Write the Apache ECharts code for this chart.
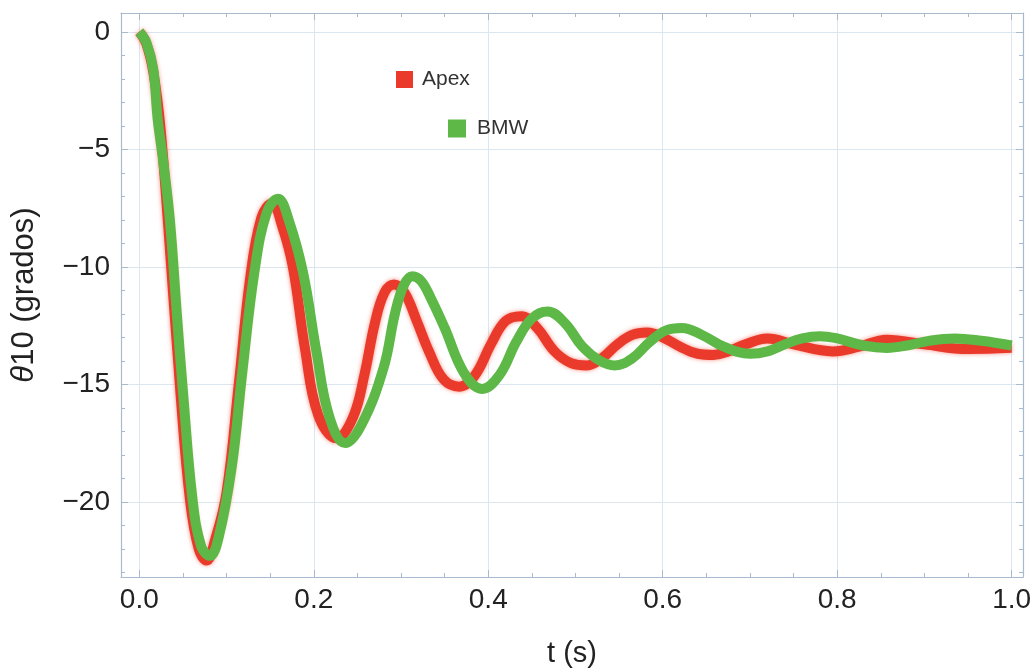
<!DOCTYPE html>
<html>
<head>
<meta charset="utf-8">
<script src="https://cdn.jsdelivr.net/npm/echarts@6/dist/echarts.min.js"></script>
<style>
html,body{margin:0;padding:0;background:#fff;}
#chart{width:1035px;height:671px;}
</style>
</head>
<body>
<div id="chart"></div>
<script>
// ---- data ----
const seriesNames = ['Apex', 'BMW'];
const tApex = [0,0.008,0.016,0.024,0.033,0.047,0.058,0.068,0.077,0.087,0.100,0.114,0.127,0.140,0.152,0.164,0.176,0.190,0.205,0.226,0.245,0.258,0.270,0.281,0.292,0.304,0.318,0.332,0.349,0.367,0.385,0.403,0.420,0.438,0.456,0.476,0.495,0.513,0.530,0.548,0.565,0.582,0.600,0.620,0.640,0.658,0.675,0.695,0.720,0.750,0.795,0.825,0.857,0.900,0.950,1.000];
const vApex = [0,-0.5,-1.7,-4.0,-8.2,-15.3,-19.9,-22.0,-22.5,-21.6,-19.6,-15.0,-10.5,-7.9,-7.3,-8.3,-10.0,-13.5,-16.3,-17.3,-16.4,-14.6,-12.4,-11.1,-10.75,-11.1,-12.3,-13.6,-14.8,-15.1,-14.6,-13.3,-12.3,-12.1,-12.6,-13.6,-14.1,-14.2,-13.9,-13.3,-12.9,-12.8,-13.0,-13.4,-13.7,-13.75,-13.6,-13.3,-13.05,-13.3,-13.6,-13.4,-13.1,-13.3,-13.5,-13.45];
const tBMW = [0,0.008,0.016,0.021,0.027,0.035,0.043,0.050,0.061,0.071,0.081,0.091,0.106,0.118,0.132,0.146,0.159,0.172,0.188,0.203,0.218,0.236,0.255,0.280,0.293,0.303,0.313,0.323,0.335,0.350,0.372,0.393,0.413,0.432,0.450,0.468,0.488,0.508,0.528,0.545,0.565,0.585,0.604,0.622,0.645,0.670,0.700,0.720,0.740,0.760,0.780,0.800,0.830,0.857,0.880,0.905,0.935,0.965,1.000];
const vBMW = [0,-0.45,-1.6,-3.7,-5.4,-8.0,-12.0,-15.3,-19.9,-21.9,-22.3,-21.5,-18.5,-14.5,-10.2,-7.7,-7.1,-8.1,-10.3,-13.6,-16.4,-17.5,-16.7,-14.3,-12.0,-10.8,-10.4,-10.6,-11.4,-12.6,-14.5,-15.2,-14.6,-13.2,-12.2,-11.9,-12.4,-13.4,-14.0,-14.2,-13.9,-13.2,-12.7,-12.6,-12.9,-13.4,-13.7,-13.6,-13.3,-13.05,-12.95,-13.05,-13.35,-13.45,-13.35,-13.15,-13.05,-13.15,-13.35];
const xTicks = [0, 0.2, 0.4, 0.6, 0.8, 1.0];
const xMinorTicks = [0.05,0.1,0.15,0.25,0.3,0.35,0.45,0.5,0.55,0.65,0.7,0.75,0.85,0.9,0.95];
const yTicks = [-20, -15, -10, -5, 0];
const yMinorTicks = [-23,-22,-21,-19,-18,-17,-16,-14,-13,-12,-11,-9,-8,-7,-6,-4,-3,-2,-1];
const xName = 't (s)';
const yName = '{i|θ}10 (grados)';

// ---- chart ----
const FONT = 'Liberation Sans, Arial, sans-serif';
const textColor = '#222222';
const frameColor = '#a7bbcc';
const gridColor = '#dbe6ef';
const xRange = [-0.021, 1.013];
const yRange = [-23.2, 0.8];
const pair = (ts, vs) => ts.map((t, i) => [t, vs[i]]);
const fmtY = v => (v < 0 ? '\u2212' + Math.abs(v) : String(v));

function xAx(pos, ticks, len, labels, split, line) {
  return {
    type: 'value', position: pos, min: xRange[0], max: xRange[1],
    axisLine: { show: line, onZero: false, lineStyle: { color: frameColor, width: 1.2 } },
    axisTick: { show: true, inside: true, length: len, customValues: ticks, lineStyle: { color: frameColor, width: 1 } },
    axisLabel: labels ? { show: true, customValues: ticks, margin: 9, formatter: v => v.toFixed(1), fontSize: 28, color: textColor, fontFamily: FONT } : { show: false },
    splitLine: { show: split, lineStyle: { color: gridColor, width: 1 } }
  };
}
function yAx(pos, ticks, len, labels, split, line) {
  return {
    type: 'value', position: pos, min: yRange[0], max: yRange[1],
    axisLine: { show: line, onZero: false, lineStyle: { color: frameColor, width: 1.2 } },
    axisTick: { show: true, inside: true, length: len, customValues: ticks, lineStyle: { color: frameColor, width: 1 } },
    axisLabel: labels ? { show: true, customValues: ticks, margin: 11, formatter: fmtY, fontSize: 28, color: textColor, fontFamily: FONT } : { show: false },
    splitLine: { show: split, lineStyle: { color: gridColor, width: 1 } }
  };
}

const xAxes = [
  xAx('bottom', xTicks, 7, true, true, true),
  xAx('bottom', xMinorTicks, 4, false, false, false),
  xAx('top', xTicks, 7, false, false, true),
  xAx('top', xMinorTicks, 4, false, false, false)
];
Object.assign(xAxes[0], {
  name: xName, nameLocation: 'middle', nameGap: 62,
  nameTextStyle: { fontSize: 29, color: textColor, fontFamily: FONT }
});
const yAxes = [
  yAx('left', yTicks, 7, true, true, true),
  yAx('left', yMinorTicks, 4, false, false, false),
  yAx('right', yTicks, 7, false, false, true),
  yAx('right', yMinorTicks, 4, false, false, false)
];
Object.assign(yAxes[0], {
  name: yName, nameLocation: 'middle', nameGap: 81, nameRotate: 90,
  nameTextStyle: { fontSize: 31, color: textColor, fontFamily: FONT,
    rich: { i: { fontSize: 31, fontStyle: 'italic', color: textColor, fontFamily: FONT } } }
});

const chart = echarts.init(document.getElementById('chart'), null, { renderer: 'canvas' });
chart.setOption({
  animation: false,
  backgroundColor: '#ffffff',
  grid: { left: 121, top: 13, width: 902, height: 564, containLabel: false, outerBoundsMode: 'none' },
  legend: [
    { data: [seriesNames[0]], left: 391, top: 64, icon: 'rect', itemWidth: 17, itemHeight: 17,
      textStyle: { fontSize: 21, color: '#333', fontFamily: FONT, padding: [0, 0, 0, 4] } },
    { data: [seriesNames[1]], left: 443, top: 113, icon: 'rect', itemWidth: 18, itemHeight: 18,
      textStyle: { fontSize: 21, color: '#333', fontFamily: FONT, padding: [0, 0, 0, 6] } }
  ],
  xAxis: xAxes,
  yAxis: yAxes,
  series: [
    { name: seriesNames[0], type: 'line', xAxisIndex: 0, yAxisIndex: 0, data: pair(tApex, vApex),
      smooth: 0.4, showSymbol: false, symbol: 'none', z: 3,
      itemStyle: { color: '#ea3a2b' },
      lineStyle: { color: '#ea3a2b', width: 10, shadowBlur: 4, shadowColor: 'rgba(240,70,50,0.6)' } },
    { name: seriesNames[1], type: 'line', xAxisIndex: 0, yAxisIndex: 0, data: pair(tBMW, vBMW),
      smooth: 0.4, showSymbol: false, symbol: 'none', z: 4,
      itemStyle: { color: '#5db847' },
      lineStyle: { color: '#5db847', width: 10 } }
  ]
});
</script>
</body>
</html>
